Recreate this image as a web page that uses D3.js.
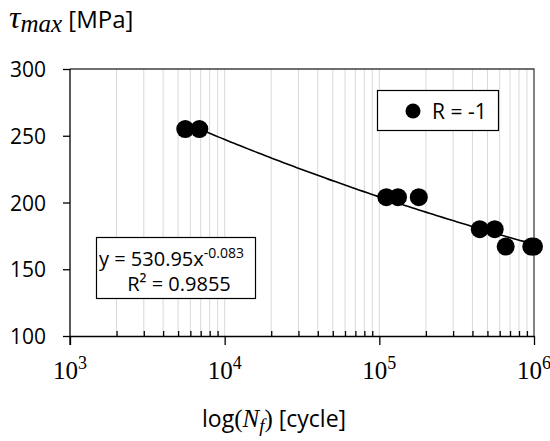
<!DOCTYPE html>
<html>
  <head>
    <meta charset="utf-8">
    <title>Shear stress vs cycles to failure</title>
    <script src="https://d3js.org/d3.v7.min.js"></script>
    <style>
      body { margin: 0; background: #fff; }
      svg { display: block; }
      .sans { font-family: "Open Sans", sans-serif; fill: #000; }
      .serif { font-family: "Liberation Serif", "DejaVu Serif", serif; fill: #000; }
      .grid line { stroke: #d9d9d9; stroke-width: 1; }
      .axis path, .axis line { stroke: #000; stroke-width: 1.3; }
    </style>
  </head>
  <body>
    <svg id="chart" width="550" height="441"></svg>
    <script>
      // data
      var cycles = [5560, 6860, 111000, 132000, 180000, 446000, 557000, 656000, 960000, 1000000];
      var stress = [255, 255, 204, 204, 204, 180, 180, 167, 167, 167];
      var seriesName = "R = -1";
      // power trendline y = a * x^b as printed on the chart
      var fitA = 530.95;
      var fitB = -0.083;
      var fitLabel = ["y = 530.95x", "-0.083"];
      var r2Label = "R\u00b2 = 0.9855";
      var yTicks = [100, 150, 200, 250, 300];
      var xExponents = [3, 4, 5, 6];

      var plotLeft = 70, plotRight = 534, plotTop = 69, plotBottom = 336;

      var svg = d3.select("#chart");

      var x = d3.scaleLog()
        .domain([1e3, 1e6])
        .range([plotLeft, plotRight]);
      var y = d3.scaleLinear()
        .domain([100, 300])
        .range([plotBottom, plotTop]);

      var majors = xExponents.map(function(e) { return Math.pow(10, e); });
      var minors = [];
      xExponents.slice(0, -1).forEach(function(e) {
        for (var k = 2; k <= 9; k++) minors.push(k * Math.pow(10, e));
      });

      // vertical gridlines
      svg.append("g")
        .attr("class", "grid")
        .selectAll("line")
          .data(minors.concat(majors.slice(1, -1)))
        .enter().append("line")
          .attr("x1", function(d) { return x(d); })
          .attr("x2", function(d) { return x(d); })
          .attr("y1", plotTop)
          .attr("y2", plotBottom);

      // top and right frame
      svg.append("path")
        .attr("d", "M" + plotLeft + "," + plotTop + "H" + plotRight + "V" + plotBottom)
        .attr("fill", "none")
        .attr("stroke", "#404040")
        .attr("stroke-width", 1.3);

      // x axis: majors down, minors up
      svg.append("g")
        .attr("class", "axis")
        .attr("transform", "translate(0," + plotBottom + ")")
        .call(d3.axisBottom(x).tickValues(majors).tickSize(9).tickSizeOuter(0).tickFormat(""));
      svg.append("g")
        .attr("class", "axis")
        .attr("transform", "translate(0," + plotBottom + ")")
        .call(d3.axisTop(x).tickValues(minors).tickSize(5).tickSizeOuter(0).tickFormat(""))
        .select(".domain").remove();

      var xLabels = svg.append("g")
        .selectAll("text")
          .data(xExponents)
        .enter().append("text")
          .attr("class", "serif")
          .attr("x", function(d) { return x(Math.pow(10, d)); })
          .attr("y", 379)
          .attr("text-anchor", "middle")
          .style("font-size", "25px");
      xLabels.append("tspan").text("10");
      xLabels.append("tspan")
        .attr("dy", -10)
        .style("font-size", "18px")
        .text(function(d) { return d; });

      // y axis
      var yAxis = svg.append("g")
        .attr("class", "axis")
        .attr("transform", "translate(" + plotLeft + ",0)")
        .call(d3.axisLeft(y).tickValues(yTicks).tickSize(7).tickSizeOuter(0).tickPadding(17));
      yAxis.selectAll("text")
        .attr("class", "sans")
        .style("font-size", "21px")
        .attr("dy", "0.36em");
      yAxis.select(".domain")
        .attr("d", "M0," + plotTop + "V" + (plotBottom + 9));

      // trendline over the data range
      var xs = d3.extent(cycles);
      var steps = d3.range(0, 101).map(function(i) {
        return Math.pow(10, Math.log10(xs[0]) + (Math.log10(xs[1]) - Math.log10(xs[0])) * i / 100);
      });
      svg.append("path")
        .datum(steps)
        .attr("fill", "none")
        .attr("stroke", "#000")
        .attr("stroke-width", 1.6)
        .attr("d", d3.line()
          .x(function(d) { return x(d); })
          .y(function(d) { return y(fitA * Math.pow(d, fitB)); }));

      // points
      svg.append("g")
        .selectAll("circle")
          .data(cycles)
        .enter().append("circle")
          .attr("cx", function(d) { return x(d); })
          .attr("cy", function(d, i) { return y(stress[i]); })
          .attr("r", 9)
          .attr("fill", "#000");

      // legend
      svg.append("rect")
        .attr("x", 377.5).attr("y", 90.5).attr("width", 121).attr("height", 40)
        .attr("fill", "#fff").attr("stroke", "#000").attr("stroke-width", 1.2);
      svg.append("circle")
        .attr("cx", 413).attr("cy", 111).attr("r", 7.5).attr("fill", "#000");
      svg.append("text")
        .attr("class", "sans")
        .attr("x", 432).attr("y", 118.5)
        .style("font-size", "21px")
        .text(seriesName);

      // trendline equation box
      svg.append("rect")
        .attr("x", 96.5).attr("y", 237.5).attr("width", 159).attr("height", 61)
        .attr("fill", "#fff").attr("stroke", "#000").attr("stroke-width", 1.2);
      var eq = svg.append("text")
        .attr("class", "sans")
        .attr("x", 99).attr("y", 266)
        .style("font-size", "20px");
      eq.append("tspan").text(fitLabel[0]);
      eq.append("tspan").attr("dy", -8).style("font-size", "14px").text(fitLabel[1]);
      svg.append("text")
        .attr("class", "sans")
        .attr("x", 179).attr("y", 291)
        .attr("text-anchor", "middle")
        .style("font-size", "20px")
        .text(r2Label);

      // y title
      var yTitle = svg.append("text")
        .attr("x", 9).attr("y", 28);
      yTitle.append("tspan").attr("class", "serif")
        .style("font-style", "italic").style("font-size", "32px").text("\u03c4");
      yTitle.append("tspan").attr("class", "serif")
        .attr("dy", 4)
        .style("font-style", "italic").style("font-size", "25px").text("max");
      yTitle.append("tspan").attr("class", "sans")
        .attr("dy", -4)
        .style("font-size", "24px").text(" [MPa]");

      // x title
      var xTitle = svg.append("text")
        .attr("x", 202).attr("y", 427);
      xTitle.append("tspan").attr("class", "sans").style("font-size", "23px").text("log");
      xTitle.append("tspan").attr("class", "serif").style("font-size", "25px").text("(");
      xTitle.append("tspan").attr("class", "serif")
        .style("font-style", "italic").style("font-size", "25px").text("N");
      xTitle.append("tspan").attr("class", "serif")
        .attr("dy", 5)
        .style("font-style", "italic").style("font-size", "19px").text("f");
      xTitle.append("tspan").attr("class", "serif")
        .attr("dy", -5)
        .style("font-size", "25px").text(")");
      xTitle.append("tspan").attr("class", "sans").style("font-size", "23px").text(" [cycle]");
    </script>
  </body>
</html>
